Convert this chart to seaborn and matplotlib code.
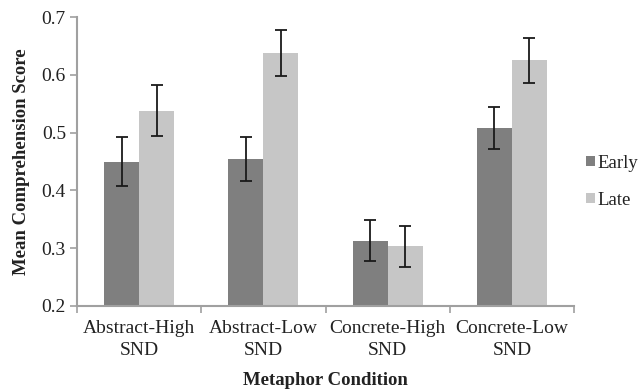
import matplotlib
matplotlib.use("Agg")
import matplotlib.pyplot as plt
import seaborn as sns
import pandas as pd
import numpy as np

categories = ["Abstract-High\nSND", "Abstract-Low\nSND", "Concrete-High\nSND", "Concrete-Low\nSND"]
groups = ["Early", "Late"]
early_vals = [0.450, 0.454, 0.313, 0.508]
late_vals = [0.538, 0.638, 0.303, 0.625]
early_err = [0.043, 0.038, 0.036, 0.037]
late_err = [0.044, 0.040, 0.036, 0.039]
colors = {"Early": "#7f7f7f", "Late": "#c6c6c6"}

df = pd.DataFrame({
    "cond": categories * 2,
    "group": ["Early"] * 4 + ["Late"] * 4,
    "score": early_vals + late_vals,
    "err": early_err + late_err,
})

sns.set_theme(style="white")
plt.rcParams["font.family"] = ["Liberation Serif", "DejaVu Serif"]

fig = plt.figure(figsize=(6.43, 3.92), dpi=100)
ax = fig.add_axes([0.1198, 0.2194, 0.8927 - 0.1198, 0.9566 - 0.2194])

sns.barplot(data=df, x="cond", y="score", hue="group", hue_order=groups,
            palette=colors, width=0.565, errorbar=None, ax=ax,
            linewidth=0, saturation=1)

# error bars at bar centers
for cont, g in zip(ax.containers, groups):
    sub = df[df.group == g]
    xs = [p.get_x() + p.get_width() / 2 for p in cont.patches]
    ax.errorbar(xs, sub["score"].values, yerr=sub["err"].values, fmt="none",
                ecolor="#1a1a1a", elinewidth=1.3, capsize=4, capthick=1.3)

ax.set_ylim(0.2, 0.7)
ax.set_xlim(-0.5, 3.5)
ax.set_yticks([0.2, 0.3, 0.4, 0.5, 0.6, 0.7])
ax.set_yticklabels(["0.2", "0.3", "0.4", "0.5", "0.6", "0.7"])
ax.set_xticks(range(4))
ax.set_xticklabels(categories, linespacing=1.4)
ax.set_xticks([-0.5, 0.5, 1.5, 2.5, 3.5], minor=True)
ax.tick_params(axis="x", which="major", length=0, pad=10, labelsize=14, colors="#222222")
ax.tick_params(axis="x", which="minor", length=5, width=1.2, color="#a0a0a0", direction="out", bottom=True)
ax.tick_params(axis="y", length=5, width=1.2, color="#a0a0a0", direction="out", left=True,
               labelsize=14, labelcolor="#222222", pad=3)

for s in ["top", "right"]:
    ax.spines[s].set_visible(False)
for s in ["left", "bottom"]:
    ax.spines[s].set_color("#a0a0a0")
    ax.spines[s].set_linewidth(1.5)

ax.set_xlabel("Metaphor Condition", fontweight="bold", fontsize=13.5, color="#222222", labelpad=9)
ax.set_ylabel("Mean Comprehension Score", fontweight="bold", fontsize=13.5, color="#222222", labelpad=8)

leg = ax.legend(loc="center left", bbox_to_anchor=(1.0, 0.43), frameon=False,
                fontsize=13.5, handlelength=0.45, handleheight=0.45, handletextpad=0.15,
                labelspacing=1.05, borderaxespad=0.25)
for t in leg.get_texts():
    t.set_color("#222222")

fig.savefig("out.png", dpi=100)
